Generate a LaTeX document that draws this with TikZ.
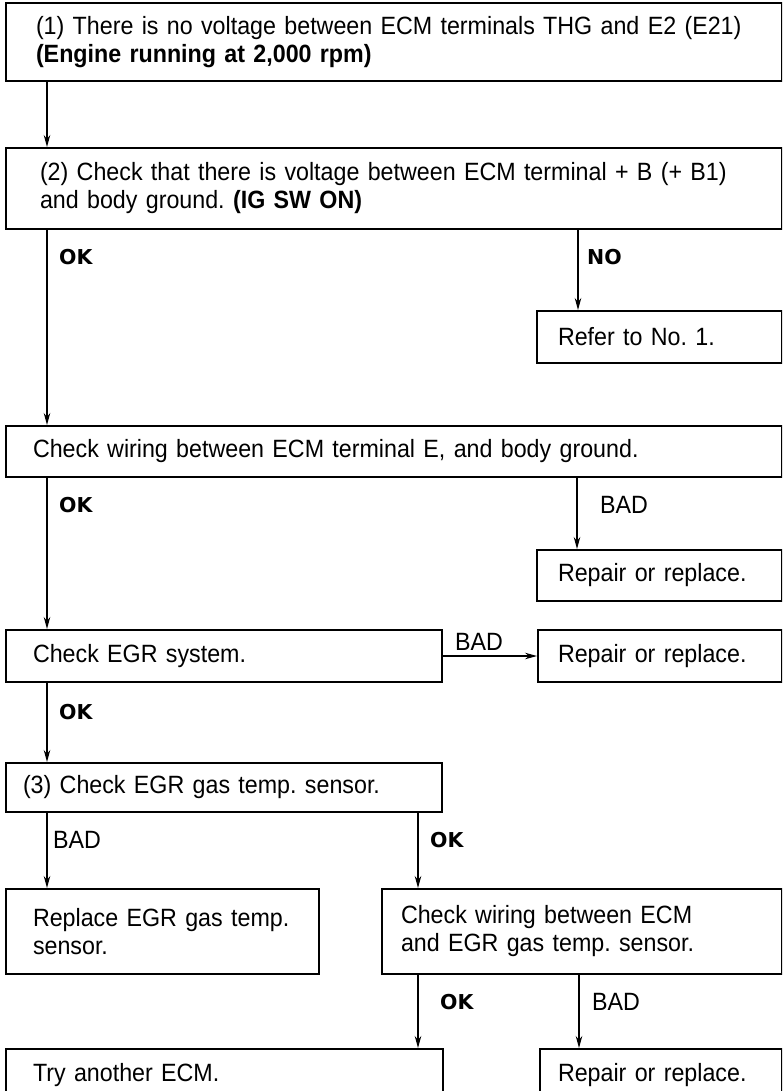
\documentclass[tikz,border=0pt]{standalone}
\usepackage{fontspec}
\setmainfont{Liberation Sans}[FakeStretch=0.93]
\newfontfamily\okfam{DejaVu Sans}
\usetikzlibrary{arrows.meta}
\frenchspacing
\newcommand\mainsz{\fontsize{25pt}{28pt}\selectfont}
\newcommand\oksz{\okfam\bfseries\fontsize{20.5pt}{24pt}\selectfont}
\tikzset{
 box/.style={draw, line width=2pt, rectangle, anchor=north west, align=left,
   inner xsep=0pt, inner ysep=0pt, font=\mainsz},
 bw/.style={text width=#1, minimum width=#1},
 bh/.style={minimum height=#1},
 lpad/.style={execute at begin node={\frenchspacing\leftskip=#1\relax}},
 conn/.style={line width=1.2pt, -{Stealth[length=12pt,width=6.5pt]}},
 oklab/.style={font=\oksz, anchor=west, inner sep=0pt},
 badlab/.style={font=\mainsz, anchor=west, inner sep=0pt},
}
\begin{document}
\begin{tikzpicture}[x=1pt,y=-1pt]
\path[use as bounding box] (0,0) rectangle (782,1091);
\clip (0,0) rectangle (782,1091);
\node[box, bw=776pt, bh=78pt, lpad=30pt] (b1) at (5,2)
 {(1) There is no voltage between ECM terminals THG and E2 (E21)\\\textbf{(Engine running at 2,000 rpm)}};
\node[box, bw=776pt, bh=81pt, lpad=34pt] (b2) at (5,147)
 {(2) Check that there is voltage between ECM terminal + B (+ B1)\\and body ground. \textbf{(IG SW ON)}};
\node[box, bw=245pt, bh=52pt, lpad=21pt] (ref) at (536,310) {Refer to No. 1.};
\node[box, bw=776pt, bh=51pt, lpad=27pt] (b3) at (5,425)
 {Check wiring between ECM terminal E, and body ground.};
\node[box, bw=245pt, bh=51pt, lpad=21pt] (rep1) at (536,549) {Repair or replace.};
\node[box, bw=436pt, bh=52pt, lpad=27pt] (b4) at (5,629) {Check EGR system.};
\node[box, bw=244pt, bh=52pt, lpad=20pt] (rep2) at (537,629) {Repair or replace.};
\node[box, bw=436pt, bh=49pt, lpad=17pt] (b5) at (5,762) {(3) Check EGR gas temp. sensor.};
\node[box, bw=313pt, bh=85pt, lpad=27pt] (b6) at (5,888) {Replace EGR gas temp.\\sensor.};
\node[box, bw=400pt, bh=85pt, lpad=19pt] (b7) at (381,888) {Check wiring between ECM\\and EGR gas temp. sensor.};
\node[box, bw=437pt, bh=52pt, lpad=27pt] (b8) at (5,1048) {Try another ECM.};
\node[box, bw=242pt, bh=52pt, lpad=18pt] (rep3) at (539,1048) {Repair or replace.};
% connection points
\coordinate (tb2) at ([xshift=42pt]b2.north west);
\coordinate (tb3) at ([xshift=42pt]b3.north west);
\coordinate (tb4) at ([xshift=42pt]b4.north west);
\coordinate (tb5) at ([xshift=42pt]b5.north west);
\coordinate (tb6) at ([xshift=42pt]b6.north west);
\coordinate (tref) at ([xshift=42pt]ref.north west);
\coordinate (trep1) at ([xshift=41pt]rep1.north west);
\coordinate (tb7) at ([xshift=37pt]b7.north west);
\coordinate (trep3) at ([xshift=40pt]rep3.north west);
\draw[conn] (b1.south -| tb2) -- (tb2);
\draw[conn] (b2.south -| tb3) -- (tb3);
\draw[conn] (b2.south -| tref) -- (tref);
\draw[conn] (b3.south -| tb4) -- (tb4);
\draw[conn] (b3.south -| trep1) -- (trep1);
\draw[conn] (b4.east) -- (rep2.west);
\draw[conn] (b4.south -| tb5) -- (tb5);
\draw[conn] (b5.south -| tb6) -- (tb6);
\draw[conn] (b5.south -| tb7) -- (tb7);
\draw[conn] (b7.south -| tb7) -- (b8.north -| tb7);
\draw[conn] (b7.south -| trep3) -- (trep3);
% labels
\node[oklab] (ok1) at (59,257) {OK};
\node[oklab] (no1) at (587,257) {NO};
\node[oklab] (ok2) at (59,505) {OK};
\node[badlab] (bad1) at (600,505) {BAD};
\node[badlab] (bad2) at (455,642) {BAD};
\node[oklab] (ok3) at (59,712) {OK};
\node[badlab] (bad3) at (53,840) {BAD};
\node[oklab] (ok4) at (430,840) {OK};
\node[oklab] (ok5) at (440,1002) {OK};
\node[badlab] (bad4) at (592,1002) {BAD};
\end{tikzpicture}
\end{document}
